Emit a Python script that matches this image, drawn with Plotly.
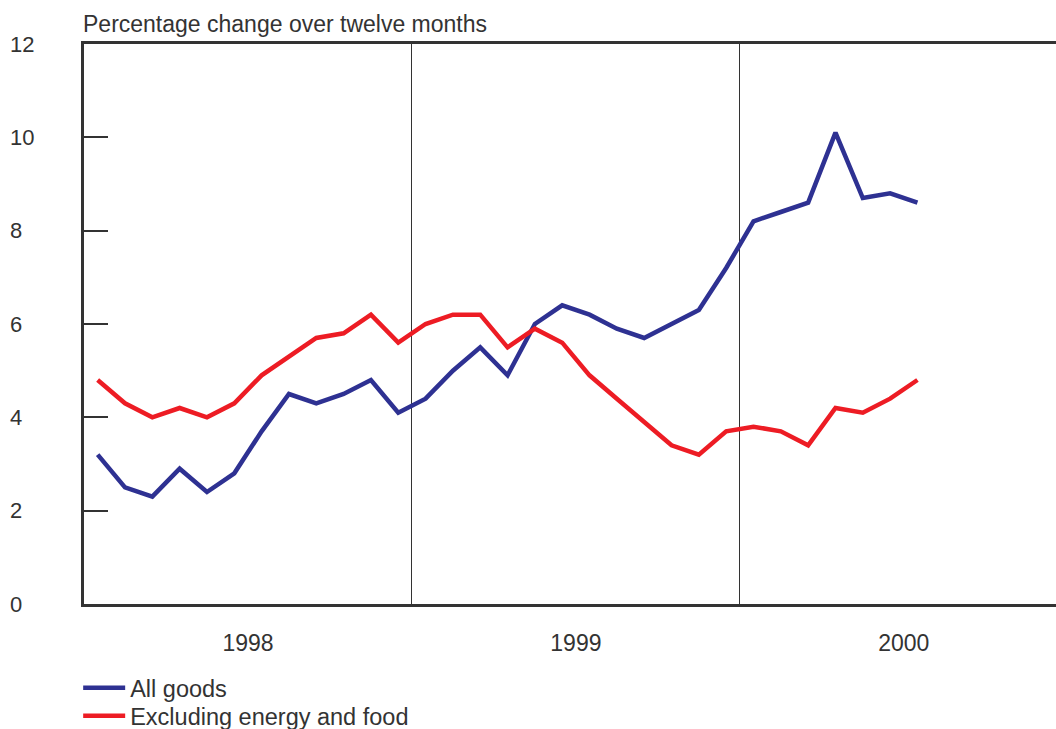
import plotly.graph_objects as go

months = [f"{y}-{m:02d}" for y in (1998, 1999, 2000) for m in range(1, 13)][:31]
all_goods = [3.2, 2.5, 2.3, 2.9, 2.4, 2.8, 3.7, 4.5, 4.3, 4.5, 4.8, 4.1,
             4.4, 5.0, 5.5, 4.9, 6.0, 6.4, 6.2, 5.9, 5.7, 6.0, 6.3, 7.2,
             8.2, 8.4, 8.6, 10.1, 8.7, 8.8, 8.6]
excl_energy_food = [4.8, 4.3, 4.0, 4.2, 4.0, 4.3, 4.9, 5.3, 5.7, 5.8, 6.2, 5.6,
                    6.0, 6.2, 6.2, 5.5, 5.9, 5.6, 4.9, 4.4, 3.9, 3.4, 3.2, 3.7,
                    3.8, 3.7, 3.4, 4.2, 4.1, 4.4, 4.8]
year_labels = ["1998", "1999", "2000"]
y_ticks = [0, 2, 4, 6, 8, 10, 12]

x = [i + 0.5 for i in range(len(months))]
FONT = "Liberation Sans"
TXT = "#333333"
FS = 23

fig = go.Figure()
fig.add_trace(go.Scatter(x=x, y=all_goods, mode="lines", name="All goods",
                         line=dict(color="#2E3192", width=4.5), legend="legend"))
fig.add_trace(go.Scatter(x=x, y=excl_energy_food, mode="lines", name="Excluding energy and food",
                         line=dict(color="#ED1C24", width=4.5), legend="legend2"))

annotations = [dict(text=str(v), x=-0.078, xref="paper", y=v, yref="y",
                    xanchor="left", yanchor="middle", showarrow=False,
                    font=dict(family=FONT, size=22, color=TXT)) for v in y_ticks]
annotations.append(dict(text="Percentage change over twelve months", x=-0.003, xref="paper",
                        y=1.0, yref="paper", yanchor="bottom", xanchor="left", yshift=5,
                        showarrow=False, font=dict(family=FONT, size=FS, color=TXT)))

leg_common = dict(x=-0.006, xanchor="left", yanchor="top",
                  bgcolor="rgba(0,0,0,0)", font=dict(size=23.5, color=TXT),
                  itemwidth=42)

fig.update_layout(
    width=1056, height=729,
    margin=dict(l=84, r=0, t=44, b=125, autoexpand=False),
    paper_bgcolor="white", plot_bgcolor="white",
    font=dict(family=FONT, size=FS, color=TXT),
    showlegend=True,
    legend=dict(y=-0.1107, **leg_common),
    legend2=dict(y=-0.1607, **leg_common),
    annotations=annotations,
    xaxis=dict(range=[0, 35.57], tickmode="array", tickvals=[6, 18, 30],
               ticktext=year_labels, ticks="", showgrid=False, zeroline=False,
               showline=True, linecolor="#333333", linewidth=2.5, mirror=True,
               ticklabelstandoff=17,
               minor=dict(tickmode="array", tickvals=[12, 24], showgrid=True,
                          gridcolor="#333333", gridwidth=1, ticks="")),
    yaxis=dict(range=[0, 12], tickmode="array", tickvals=y_ticks, showticklabels=False,
               ticks="inside", ticklen=24, tickwidth=2, tickcolor="#333333",
               showgrid=False, zeroline=False, showline=True, linecolor="#333333",
               linewidth=2.5),
)

fig.write_html("out.html", config={"displayModeBar": False},
               post_script="document.body.style.margin='0';document.body.style.overflow='hidden';")
